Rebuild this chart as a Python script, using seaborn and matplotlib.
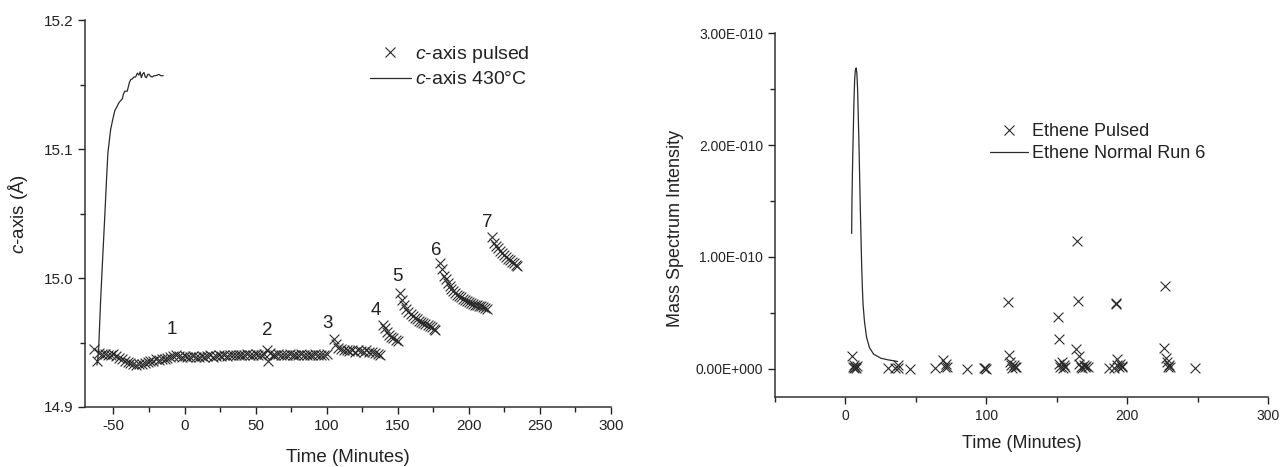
import matplotlib
matplotlib.use("Agg")
import matplotlib.pyplot as plt
from matplotlib.lines import Line2D
from matplotlib.ticker import MultipleLocator, FuncFormatter
import seaborn as sns
import pandas as pd

# ---------------- data: left panel ----------------
pulsed_t = [-63.5, -61.5, -60, -58, -56, -54, -52, -50, -48, -46, -44, -42, -40, -38, -36,
            -34, -32, -30, -28, -26, -24, -22, -20, -18, -16, -14, -12, -10, -8, -6,
            -4, -2, 0, 2, 4, 6, 8, 10, 12, 14, 16, 18, 20, 22, 24,
            26, 28, 30, 32, 34, 36, 38, 40, 42, 44, 46, 48, 50, 52, 54,
            56, 58, 58.5, 60, 62, 64, 66, 68, 70, 72, 74, 76, 78, 80, 82,
            84, 86, 88, 90, 92, 94, 96, 98, 100,
            105, 106.5, 108, 110, 112, 114, 116, 118, 120, 122, 124, 126, 128, 130, 132, 134, 136, 137.5,
            139.5, 141, 142.5, 144, 145.5, 147, 148.5, 150,
            151.3, 153, 154.5, 156, 157.5, 159, 160.5, 162, 163.5, 165, 166.5, 168, 169.5, 171, 172.5, 174, 175.5, 176.5,
            179.4, 180.8, 182.2, 183.6, 185, 186.4, 187.8, 189.2, 190.6, 192, 193.4, 194.8, 196.2, 197.6, 199,
            200.4, 201.8, 203.2, 204.6, 206, 207.4, 208.8, 210.2, 211.6, 213,
            216.2, 217.6, 219, 220.4, 221.8, 223.2, 224.6, 226, 227.4, 228.8, 230.2, 231.6, 233, 234.2]
pulsed_c = [14.9450, 14.9360, 14.9420, 14.9410, 14.9415, 14.9405, 14.9400, 14.9410, 14.9395, 14.9380,
            14.9370, 14.9360, 14.9350, 14.9340, 14.9330, 14.9325, 14.9330, 14.9335, 14.9345, 14.9350,
            14.9360, 14.9360, 14.9370, 14.9365, 14.9375, 14.9370, 14.9380, 14.9385, 14.9395, 14.9400,
            14.9395, 14.9390, 14.9395, 14.9385, 14.9390, 14.9395, 14.9385, 14.9390, 14.9395, 14.9390,
            14.9395, 14.9400, 14.9390, 14.9395, 14.9400, 14.9395, 14.9400, 14.9395, 14.9400, 14.9405,
            14.9400, 14.9405, 14.9400, 14.9405, 14.9410, 14.9400, 14.9405, 14.9410, 14.9405, 14.9400,
            14.9410, 14.9440, 14.9360, 14.9420, 14.9405, 14.9400, 14.9410, 14.9400, 14.9405, 14.9400,
            14.9410, 14.9400, 14.9405, 14.9400, 14.9410, 14.9405, 14.9400, 14.9405, 14.9400, 14.9410,
            14.9400, 14.9405, 14.9400, 14.9410,
            14.9525, 14.9490, 14.9460, 14.9450, 14.9440, 14.9445, 14.9435, 14.9440, 14.9430, 14.9440,
            14.9435, 14.9430, 14.9440, 14.9425, 14.9430, 14.9420, 14.9415, 14.9405,
            14.9636, 14.9610, 14.9580, 14.9560, 14.9545, 14.9535, 14.9520, 14.9515,
            14.9882, 14.9830, 14.9795, 14.9760, 14.9735, 14.9720, 14.9705, 14.9690, 14.9680, 14.9670,
            14.9660, 14.9655, 14.9645, 14.9640, 14.9630, 14.9620, 14.9605, 14.9600,
            15.0115, 15.0070, 15.0020, 14.9990, 14.9960, 14.9935, 14.9915, 14.9900, 14.9885, 14.9870,
            14.9860, 14.9850, 14.9840, 14.9830, 14.9820, 14.9815, 14.9805, 14.9800, 14.9795, 14.9790,
            14.9785, 14.9780, 14.9775, 14.9770, 14.9760,
            15.0316, 15.0270, 15.0250, 15.0230, 15.0210, 15.0195, 15.0180, 15.0165, 15.0150, 15.0140,
            15.0125, 15.0115, 15.0105, 15.0095]

heat_t = [-61.6, -60.5, -59.0, -57.5, -56.0, -54.8, -53.9, -52.0, -50.5, -49.0, -47.5, -46.2, -45.0,
          -43.8, -42.9, -42.0, -40.3, -38.7, -37.8, -36.8, -35.6, -34.4, -33.2, -32.1, -31.2, -30.4,
          -29.4, -28.5, -27.6, -26.8, -25.9, -25.0, -23.8, -22.7, -21.5, -20.4, -19.2, -18.1, -16.5, -15.0]
heat_c = [14.9326, 14.9420, 14.9830, 15.0170, 15.0500, 15.0780, 15.0970, 15.1150, 15.1230, 15.1300,
          15.1330, 15.1360, 15.1375, 15.1390, 15.1430, 15.1450, 15.1450, 15.1520, 15.1540, 15.1545,
          15.1560, 15.1560, 15.1590, 15.1575, 15.1600, 15.1555, 15.1585, 15.1595, 15.1560, 15.1555,
          15.1580, 15.1580, 15.1565, 15.1560, 15.1570, 15.1570, 15.1575, 15.1580, 15.1570, 15.1570]

run_labels = ["1", "2", "3", "4", "5", "6", "7"]
run_label_t = [-8.7, 58.1, 100.3, 134.3, 150.0, 177.0, 212.7]
run_label_c = [14.9603, 14.9590, 14.9644, 14.9750, 15.0010, 15.0213, 15.0430]

# ---------------- data: right panel ----------------
eth_t = [4.5, 5.2, 5.8, 6.3, 6.8, 7.4, 7.9,
         30.4, 35.1, 37.0, 37.5, 45.7,
         63.4, 68.9, 70.5, 71.3, 72.0,
         86.4, 98.2, 99.0, 100.0,
         115.4, 116.0, 116.6, 117.7, 118.5, 119.3, 120.2, 121.2,
         150.8, 151.3, 151.8, 152.5, 153.3, 154.0, 154.8, 155.5,
         163.8, 164.5, 165.0, 165.7, 166.0, 167.0, 168.0, 169.0, 170.0, 171.0, 172.0,
         186.7, 190.6, 191.6, 192.0, 192.3, 193.0, 194.0, 195.0, 196.0, 196.5,
         226.3, 227.0, 227.4, 227.8, 228.5, 229.2, 230.0,
         248.2]
eth_v = [1.16e-11, 0.2e-11, 0.1e-11, 0.3e-11, 0.15e-11, 0.05e-11, 0.25e-11,
         0.05e-11, 0.1e-11, 0.3e-11, 0.05e-11, 0.0,
         0.05e-11, 0.75e-11, 0.2e-11, 0.4e-11, 0.15e-11,
         0.0, 0.05e-11, 0.1e-11, 0.0,
         6.0e-11, 1.2e-11, 0.6e-11, 0.3e-11, 0.1e-11, 0.35e-11, 0.15e-11, 0.2e-11,
         4.6e-11, 2.7e-11, 0.4e-11, 0.2e-11, 0.6e-11, 0.1e-11, 0.3e-11, 0.15e-11,
         1.8e-11, 11.4e-11, 6.1e-11, 1.1e-11, 0.4e-11, 0.2e-11, 0.1e-11, 0.35e-11, 0.15e-11, 0.25e-11, 0.2e-11,
         0.05e-11, 0.1e-11, 5.9e-11, 5.8e-11, 0.9e-11, 0.3e-11, 0.15e-11, 0.4e-11, 0.2e-11, 0.25e-11,
         1.9e-11, 7.4e-11, 1.0e-11, 0.6e-11, 0.2e-11, 0.35e-11, 0.15e-11,
         0.05e-11]

norm_t = [4.4, 4.6, 5.0, 5.5, 6.0, 6.5, 7.0, 7.6, 8.1, 8.6, 9.0, 9.5, 10.0, 10.5, 11.0, 11.5, 12.0,
          12.5, 13.5, 15.0, 17.0, 20.0, 25.0, 30.0, 37.0]
norm_v = [1.21e-10, 1.50e-10, 1.80e-10, 2.10e-10, 2.38e-10, 2.58e-10, 2.67e-10, 2.69e-10, 2.64e-10,
          2.50e-10, 2.30e-10, 2.05e-10, 1.75e-10, 1.45e-10, 1.18e-10, 0.92e-10, 0.72e-10,
          0.57e-10, 0.42e-10, 0.28e-10, 0.19e-10, 0.13e-10, 0.095e-10, 0.08e-10, 0.065e-10]

# ---------------- style ----------------
sns.set_theme(style="ticks")
plt.rcParams["font.family"] = ["Liberation Sans", "DejaVu Sans"]
plt.rcParams["mathtext.fontset"] = "custom"
plt.rcParams["mathtext.rm"] = "Liberation Sans"
plt.rcParams["mathtext.it"] = "Liberation Sans:italic"
plt.rcParams["axes.unicode_minus"] = False
INK = "#222222"
plt.rcParams.update({
    "text.color": INK, "axes.labelcolor": INK, "xtick.color": INK, "ytick.color": INK,
    "axes.edgecolor": "#333333", "axes.linewidth": 1.1,
    "xtick.major.size": 5, "ytick.major.size": 5, "xtick.minor.size": 3.5, "ytick.minor.size": 3.5,
    "xtick.major.width": 1.0, "ytick.major.width": 1.0, "xtick.minor.width": 1.0, "ytick.minor.width": 1.0,
})

fig = plt.figure(figsize=(12.8, 4.67), dpi=100)
axL = fig.add_axes([85 / 1280, 1 - 407 / 467, 526 / 1280, 386.7 / 467])
axR = fig.add_axes([775 / 1280, 1 - 396.7 / 467, 493.3 / 1280, 363.4 / 467])

MK = "#2a2a2a"

# ---- left ----
dfL = pd.DataFrame({"t": pulsed_t, "c": pulsed_c})
dfH = pd.DataFrame({"t": heat_t, "c": heat_c})
sns.lineplot(data=dfH, x="t", y="c", ax=axL, color=MK, linewidth=0.9, sort=False, estimator=None)
sns.scatterplot(data=dfL, x="t", y="c", ax=axL, marker="x", s=50, color=MK, linewidth=0.8)
for lab, tx, cy in zip(run_labels, run_label_t, run_label_c):
    axL.text(tx, cy, lab, fontsize=13.5, ha="center", va="center")

axL.set_xlim(-70, 300)
axL.set_ylim(14.9, 15.2)
axL.xaxis.set_major_locator(MultipleLocator(50))
axL.xaxis.set_minor_locator(MultipleLocator(25))
axL.yaxis.set_major_locator(MultipleLocator(0.1))
axL.yaxis.set_minor_locator(MultipleLocator(0.05))
axL.yaxis.set_major_formatter(FuncFormatter(lambda v, p: f"{v:.1f}"))
axL.tick_params(labelsize=11)
axL.set_xlabel("Time (Minutes)", fontsize=13.5, labelpad=12)
axL.set_ylabel("$c$-axis (Å)", fontsize=13.5, labelpad=10)
sns.despine(ax=axL)
hL = [Line2D([], [], marker="x", color=MK, linestyle="none", markersize=7.2, markeredgewidth=0.8),
      Line2D([], [], color=MK, linewidth=0.9)]
axL.legend(hL, ["$c$-axis pulsed", "$c$-axis 430°C"], frameon=False, fontsize=14,
           loc="upper left", bbox_to_anchor=((370 - 85) / 526, 1 - (44 - 20.3) / 386.7),
           handlelength=2.1, handletextpad=0.2, labelspacing=0.3, borderpad=0, borderaxespad=0)

# ---- right ----
dfE = pd.DataFrame({"t": eth_t, "v": eth_v})
dfN = pd.DataFrame({"t": norm_t, "v": norm_v})
sns.lineplot(data=dfN, x="t", y="v", ax=axR, color=MK, linewidth=0.9, sort=False, estimator=None)
sns.scatterplot(data=dfE, x="t", y="v", ax=axR, marker="x", s=50, color=MK, linewidth=0.8)
axR.set_xlim(-50, 300)
axR.set_ylim(-2.5e-11, 3e-10)
axR.xaxis.set_major_locator(MultipleLocator(100))
axR.xaxis.set_minor_locator(MultipleLocator(50))
axR.yaxis.set_major_locator(MultipleLocator(1e-10))
axR.yaxis.set_minor_locator(MultipleLocator(0.5e-10))
axR.yaxis.set_major_formatter(FuncFormatter(lambda v, p: "0.00E+000" if abs(v) < 1e-15 else f"{v / 1e-10:.2f}E-010"))
axR.tick_params(labelsize=10)
axR.set_xlabel("Time (Minutes)", fontsize=13, labelpad=9)
axR.set_ylabel("Mass Spectrum Intensity", fontsize=13)
axR.yaxis.set_label_coords((684 - 775) / 493.3, 1 - (228 - 33.3) / 363.4)
sns.despine(ax=axR)
hR = [Line2D([], [], marker="x", color=MK, linestyle="none", markersize=7.2, markeredgewidth=0.8),
      Line2D([], [], color=MK, linewidth=0.9)]
axR.legend(hR, ["Ethene Pulsed", "Ethene Normal Run 6"], frameon=False, fontsize=13,
           loc="upper left", bbox_to_anchor=((990 - 775) / 493.3, 1 - (123 - 33.3) / 363.4),
           handlelength=2.1, handletextpad=0.25, labelspacing=0.3, borderpad=0, borderaxespad=0)

fig.savefig("out.png", dpi=100)
